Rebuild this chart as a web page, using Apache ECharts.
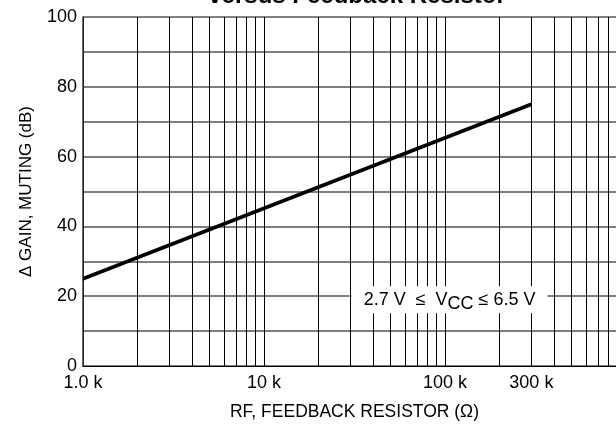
<!DOCTYPE html>
<html><head><meta charset="utf-8">
<script src="https://cdn.jsdelivr.net/npm/echarts@6/dist/echarts.min.js"></script>
<style>html,body{margin:0;padding:0;background:#fff}#c{width:616px;height:430px}</style>
</head><body><div id="c"></div>
<script>
const titleText = 'versus Feedback Resistor';
const xAxisName = 'RF, FEEDBACK RESISTOR (Ω)';
const yAxisName = 'Δ GAIN, MUTING (dB)';
const resistance = [1000, 300000];
const gainMuting = [25, 75];
const xTickValues = [1000, 10000, 100000, 300000];
const xTickLabels = ['1.0 k', '10 k', '100 k', '300 k'];
const yTickLabels = [0, 20, 40, 60, 80, 100];
const xMinorGrid = [2000, 3000, 4000, 5000, 6000, 7000, 8000, 9000,
  20000, 30000, 40000, 50000, 60000, 70000, 80000, 90000,
  200000, 300000, 400000, 500000, 600000, 700000, 800000, 900000];
const annotationAt = [106000, 19];

const FONT = "'Liberation Sans', Arial, sans-serif";
const FS = 18;

const chart = echarts.init(document.getElementById('c'), null, {renderer: 'canvas'});

const gridLineData = xMinorGrid.map(v => {
  const idx = xTickValues.indexOf(v);
  if (idx >= 0) {
    return {xAxis: v, label: {show: true, position: 'start', distance: 8,
      formatter: xTickLabels[idx], fontFamily: FONT, fontSize: FS, color: '#000'}};
  }
  return {xAxis: v};
});

chart.setOption({
  animation: false,
  backgroundColor: '#fff',
  title: {
    text: titleText, left: 357, textAlign: 'center', top: -16, padding: 0,
    textStyle: {fontFamily: FONT, fontWeight: 'bold', fontSize: 24, color: '#000'}
  },
  grid: {left: 83, width: 543, top: 17, bottom: 64, containLabel: false, outerBoundsMode: 'none'},
  xAxis: {
    type: 'log', logBase: 10, min: 1000, max: 1000000,
    name: xAxisName, nameLocation: 'middle', nameGap: 37,
    nameTextStyle: {fontFamily: FONT, fontSize: 17.5, color: '#000'},
    axisLine: {show: true, lineStyle: {color: '#000', width: 1}},
    axisTick: {show: false},
    axisLabel: {
      margin: 8, fontFamily: FONT, fontSize: FS, color: '#000',
      formatter: v => { const i = xTickValues.indexOf(v); return i >= 0 ? xTickLabels[i] : ''; }
    },
    splitLine: {show: true, lineStyle: {color: '#000', width: 1}},
    minorTick: {show: false}, minorSplitLine: {show: false}
  },
  yAxis: {
    type: 'value', min: 0, max: 100, interval: 10,
    name: yAxisName, nameLocation: 'middle', nameGap: 48, nameRotate: 90,
    nameTextStyle: {fontFamily: FONT, fontSize: 17, color: '#000'},
    axisLine: {show: true, lineStyle: {color: '#333', width: 1.5}},
    axisTick: {show: false},
    axisLabel: {
      margin: 6, fontFamily: FONT, fontSize: FS, color: '#000',
      formatter: v => yTickLabels.indexOf(v) >= 0 ? String(v) : ''
    },
    splitLine: {show: true, lineStyle: {color: '#555', width: 1.5}}
  },
  series: [
    {
      type: 'line', z: 1, silent: true,
      data: resistance.map((r, i) => [r, gainMuting[i]]),
      showSymbol: false, symbol: 'none',
      lineStyle: {opacity: 0},
      markLine: {
        silent: true, symbol: ['none', 'none'], animation: false,
        lineStyle: {color: '#000', width: 1, type: 'solid'},
        label: {show: false},
        emphasis: {disabled: true},
        data: gridLineData
      }
    },
    {
      type: 'line', z: 5, silent: true,
      data: resistance.map((r, i) => [r, gainMuting[i]]),
      showSymbol: false, symbol: 'none',
      lineStyle: {color: '#000', width: 3.5}
    },
    {
      type: 'scatter', z: 10, silent: true,
      data: [],
      markPoint: {
        silent: true, symbol: 'rect', symbolSize: 0,
        data: [{coord: annotationAt}],
        label: {
          show: true, position: 'inside',
          backgroundColor: '#fff', padding: [0, 12, 0, 12],
          formatter: '{a|2.7 V  ≤  V}{s|CC}{a| ≤ 6.5 V}',
          rich: {
            a: {fontFamily: FONT, fontSize: 18, color: '#000'},
            s: {fontFamily: FONT, fontSize: 18, color: '#000', padding: [9, 0, 0, 0]}
          }
        }
      }
    }
  ]
});
</script></body></html>
